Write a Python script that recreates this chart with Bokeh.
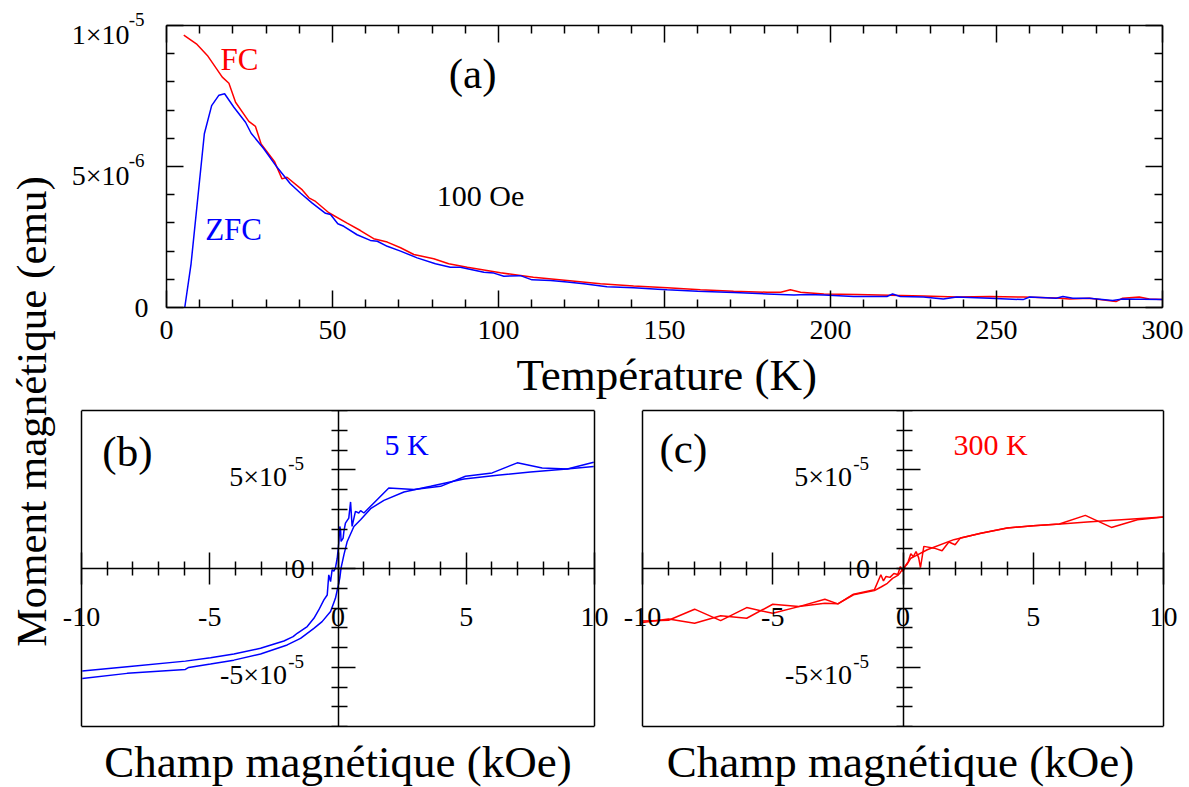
import numpy as np
from bokeh.plotting import figure
from bokeh.models import (Range1d, FixedTicker, LinearAxis, Label, LabelSet, ColumnDataSource,
                          Title)
from bokeh.core.properties import value
from bokeh.layouts import row, column
from bokeh.embed import file_html
from bokeh.resources import INLINE

FONT = "Liberation Serif"

# ---------------- data: panel (a), moment in units of 1e-6 emu ----------------
FC_T = [5.2, 9.0, 12.3, 16.8, 18.8, 20.8, 24.8, 26.8, 28.5, 32.5, 34.8, 36.3, 40.9, 42.9, 44.9,
        48.9, 54.4, 58.4, 62.4, 66.5, 70.5, 74.5, 80.5, 85.0, 90.6, 100.6, 110.5, 120.7, 130.7,
        140.7, 150.8, 160.8, 170.8, 180.9, 185.0, 187.9, 191.0, 198.0, 208.0, 218.0, 228.0,
        238.0, 248.0, 258.0, 268.0, 272.0, 278.0, 286.0, 288.0, 293.0, 296.0, 300.0]
FC_M = [9.66, 9.35, 8.94, 8.17, 7.95, 7.28, 6.60, 6.42, 5.80, 5.18, 4.56, 4.62, 4.17, 3.89, 3.76,
        3.36, 2.99, 2.73, 2.44, 2.32, 2.12, 1.88, 1.73, 1.55, 1.43, 1.23, 1.07, 0.96, 0.84,
        0.76, 0.70, 0.63, 0.58, 0.54, 0.54, 0.63, 0.54, 0.48, 0.46, 0.43, 0.41,
        0.37, 0.39, 0.37, 0.34, 0.30, 0.33, 0.21, 0.33, 0.37, 0.30, 0.28]

ZFC_T = [5.5, 7.4, 11.4, 13.6, 15.8, 17.5, 20.3, 23.8, 25.5, 29.3, 33.3, 37.3, 40.4, 43.9, 47.9,
         49.4, 51.6, 53.4, 57.4, 61.4, 63.5, 66.5, 70.5, 75.5, 81.0, 85.5, 88.5, 95.6, 98.6,
         101.6, 106.6, 110.1, 115.7, 120.7, 125.7, 132.7, 140.7, 148.0, 150.8, 160.0, 170.9,
         181.0, 189.0, 193.0, 198.0, 207.0, 217.0, 218.7, 221.0, 228.0, 234.0, 238.0, 248.0,
         258.0, 260.0, 268.0, 270.0, 273.0, 278.0, 285.0, 288.0, 300.0]
ZFC_M = [0.0, 1.55, 6.16, 7.16, 7.53, 7.58, 7.10, 6.57, 6.18, 5.63, 4.97, 4.39, 4.05, 3.70, 3.34,
         3.30, 2.97, 2.88, 2.58, 2.38, 2.35, 2.17, 2.00, 1.76, 1.55, 1.43, 1.43, 1.25, 1.22,
         1.11, 1.13, 0.98, 0.96, 0.90, 0.84, 0.74, 0.70, 0.65, 0.63, 0.58, 0.53,
         0.48, 0.44, 0.46, 0.44, 0.39, 0.39, 0.48, 0.39, 0.37, 0.30, 0.37, 0.33,
         0.28, 0.37, 0.33, 0.39, 0.33, 0.33, 0.25, 0.30, 0.28]

# ---------------- data: panel (b) 5 K loop, moment in units of 1e-5 emu ----------------
B_DESC_H = [9.97, 8.94, 7.96, 6.99, 6.01, 4.97, 4.0, 2.96, 1.98, 1.01, 0.88, 0.81, 0.68, 0.55,
            0.49, 0.42, 0.29, 0.23, 0.20, 0.12, 0.10, 0.07, 0.03, -0.03, -0.10, -0.16, -0.23,
            -0.29, -0.36, -0.42, -0.55, -0.75, -0.94, -1.20, -1.59, -1.75, -2.11, -3.02,
            -4.06, -4.97, -5.95, -8.22, -9.97]
B_DESC_M = [5.38, 5.04, 5.09, 5.35, 4.84, 4.67, 4.16, 4.00, 4.08, 2.81, 2.93, 2.81, 2.89, 2.13,
            3.37, 2.55, 2.30, 1.88, 1.54, 1.37, 1.97, 2.13, 1.29, 0.52, 0.03, -0.14, -0.07,
            -0.66, -0.32, -1.34, -1.59, -2.10, -2.52, -2.94, -3.28, -3.45, -3.67, -4.04,
            -4.33, -4.52, -4.69, -4.97, -5.19]
B_ASC_H = [-9.97, -8.22, -5.95, -5.82, -4.97, -4.06, -3.02, -1.98, -1.46, -0.94, -0.62, -0.29,
           -0.10, 0.0, 0.07, 0.12, 0.23, 0.36, 0.62, 0.88, 1.27, 1.79, 2.57, 3.61, 4.91, 6.21,
           7.5, 8.8, 9.97]
B_ASC_M = [-5.57, -5.31, -5.11, -5.01, -4.84, -4.64, -4.33, -3.87, -3.54, -3.03, -2.69, -2.18,
           -1.51, -0.91, -0.49, 0.03, 0.69, 1.37, 2.13, 2.47, 3.03, 3.45, 3.87, 4.16, 4.53, 4.72,
           4.89, 5.03, 5.16]

# ---------------- data: panel (c) 300 K loop, moment in units of 1e-5 emu ----------------
C_ASC_H = [-10, -9, -8, -7, -6, -5, -4, -3, -2.5, -1.9, -1.1, -0.85, -0.75, -0.65, -0.5, -0.35,
           -0.2, -0.1, 0.0, 0.1, 0.2, 0.3, 0.4, 0.5, 0.6, 0.67, 0.8, 1.2, 1.5, 1.76, 2.0, 2.2,
           3, 4, 5, 6, 7, 8, 9, 10]
C_ASC_M = [-2.66, -2.62, -2.06, -2.64, -1.98, -2.27, -1.93, -1.56, -1.79, -1.30, -1.08, -0.32,
           -0.63, -0.40, -0.45, -0.25, -0.30, 0.10, -0.15, 0.15, 0.35, 0.75, 0.60, 0.86, 0.55,
           0.05, 1.12, 1.03, 0.90, 1.34, 1.20, 1.54, 1.79, 2.05, 2.17, 2.25, 2.69, 2.08, 2.47,
           2.61]
C_DESC_H = [-10, -9, -8, -7, -6, -5, -4, -3, -2.5, -1.9, -1.1, -0.86, -0.6, -0.4, -0.2, -0.1,
            0.0, 0.15, 0.3, 0.5, 0.93, 1.95, 2.98, 4.0, 5.0, 6.05, 7.07, 8.09, 10]
C_DESC_M = [-2.74, -2.56, -2.77, -2.39, -2.52, -1.81, -1.93, -1.76, -1.79, -1.33, -1.12, -0.95,
            -0.75, -0.5, -0.35, -0.2, 0.0, 0.2, 0.52, 0.65, 0.95, 1.46, 1.79, 2.05, 2.17, 2.25,
            2.35, 2.44, 2.61]

# ---------------- ticks and tick labels ----------------
A_XTICKS = [0, 50, 100, 150, 200, 250, 300]
A_XMINOR = [t for t in range(0, 301, 10) if t % 50]
A_YTICKS = [0, 5, 10]
A_YMINOR = [1, 2, 3, 4, 6, 7, 8, 9]
A_YZERO = ["0"]
A_YMANT = ["5×10", "1×10"]        # mantissa of the labels at 5 and 10
A_YEXP = ["-6", "-5"]             # superscript exponents

H_XTICKS = [-10, -5, 0, 5, 10]
H_XMINOR = [t for t in range(-9, 10) if t % 5]
H_XLABELS = ["-10", "-5", "0", "5", "10"]
H_YLIM = [-8, 8]
H_YTICKS = [-5, 0, 5]
H_YMINOR = [t for t in range(-8, 9) if t % 5]
H_YMANT = ["-5×10", "5×10"]        # labels at -5 and 5
H_YEXP = ["-5", "-5"]

RED = "#ff0000"
BLUE = "#0000ff"
TICK_FS = "28px"
SUP_FS = "19px"
LABEL_FS = "45px"


def base(p):
    p.xgrid.grid_line_color = None
    p.ygrid.grid_line_color = None
    p.outline_line_color = None
    p.background_fill_color = "white"
    p.border_fill_color = "white"


def style_axis(ax, show_labels=True):
    ax.axis_line_width = 1.5
    ax.axis_line_color = "black"
    ax.major_tick_line_width = 1.5
    ax.minor_tick_line_width = 1.5
    ax.major_tick_line_color = "black"
    ax.minor_tick_line_color = "black"
    ax.major_label_text_font = FONT
    ax.major_label_text_font_size = TICK_FS
    ax.major_label_text_color = "black"
    ax.axis_label_text_font = FONT
    ax.axis_label_text_font_size = LABEL_FS
    ax.axis_label_text_font_style = "normal"
    ax.axis_label_text_color = "black"
    if not show_labels:
        ax.major_label_text_color = None
        ax.major_label_text_font_size = "1px"
        ax.major_label_standoff = 0


def ticks(ax, major, minor, tin, tout, min_in, min_out):
    ax.ticker = FixedTicker(ticks=major, minor_ticks=minor)
    ax.major_tick_in, ax.major_tick_out = tin, tout
    ax.minor_tick_in, ax.minor_tick_out = min_in, min_out


def edge_axis(p, loc, bounds, fixed=None):
    """Plain line (no ticks) used as one side of a panel's box."""
    ax = LinearAxis(ticker=FixedTicker(ticks=[]), bounds=bounds)
    style_axis(ax, show_labels=False)
    ax.major_tick_out = 0
    ax.minor_tick_out = 0
    if fixed is not None:
        ax.fixed_location = fixed
    p.add_layout(ax, loc)
    return ax


def labels(p, xs, ys, texts, size, align, xoff, yoff):
    src = ColumnDataSource(dict(x=xs, y=ys, t=texts))
    p.add_layout(LabelSet(x="x", y="y", text="t", source=src, x_offset=xoff, y_offset=yoff,
                          text_font=value(FONT), text_font_size=value(size),
                          text_color="black", text_align=align, text_baseline="middle"))


# ---------------- panel (a) ----------------
# box: 996 x 282 px; the frame is padded so that every tick label lives inside it
A_PPX = 996 / (A_XTICKS[-1] - A_XTICKS[0])
A_PPY = 282 / (A_YTICKS[-1] - A_YTICKS[0])
PAD_L, PAD_R, PAD_T, PAD_B = 100, 22, 14, 42
p1 = figure(frame_width=996 + PAD_L + PAD_R, frame_height=282 + PAD_T + PAD_B,
            min_border_left=6, min_border_right=0, min_border_top=11, min_border_bottom=51,
            x_range=Range1d(A_XTICKS[0] - PAD_L / A_PPX, A_XTICKS[-1] + PAD_R / A_PPX),
            y_range=Range1d(A_YTICKS[0] - PAD_B / A_PPY, A_YTICKS[-1] + PAD_T / A_PPY),
            output_backend="svg", toolbar_location=None)
base(p1)
XB = (A_XTICKS[0], A_XTICKS[-1])
YB = (A_YTICKS[0], A_YTICKS[-1])

xa = p1.xaxis[0]
style_axis(xa)
ticks(xa, A_XTICKS, A_XMINOR, 17, 0, 8, 0)
xa.bounds = XB
xa.fixed_location = A_YTICKS[0]
xa.major_label_standoff = 13

ya = p1.yaxis[0]
style_axis(ya, show_labels=False)
ticks(ya, A_YTICKS, A_YMINOR, 17, 0, 8, 0)
ya.bounds = YB
ya.fixed_location = A_XTICKS[0]

top = LinearAxis(bounds=XB, fixed_location=A_YTICKS[-1])
style_axis(top, show_labels=False)
ticks(top, A_XTICKS, A_XMINOR, 17, 0, 8, 0)
p1.add_layout(top, "above")
rgt = LinearAxis(bounds=YB, fixed_location=A_XTICKS[-1])
style_axis(rgt, show_labels=False)
ticks(rgt, A_YTICKS, A_YMINOR, 17, 0, 8, 0)
p1.add_layout(rgt, "right")

# x axis title, centred under the box (the frame is wider than the box)
p1.add_layout(Title(text="Température (K)", align="left", offset=PAD_L + 350,
                    vertical_align="top", standoff=0,
                    text_font=FONT, text_font_size=LABEL_FS, text_font_style="normal",
                    text_color="black"), "below")

# y tick labels of (a): "0", then mantissa + raised exponent
labels(p1, [0], A_YTICKS[:1], A_YZERO, TICK_FS, "right", -18, 0)
labels(p1, [0, 0], A_YTICKS[1:], A_YMANT, TICK_FS, "right", -37, -9)
labels(p1, [0, 0], A_YTICKS[1:], A_YEXP, SUP_FS, "right", -22, 6)

p1.line(FC_T, FC_M, line_color=RED, line_width=1.5)
p1.line(ZFC_T, ZFC_M, line_color=BLUE, line_width=1.5)

for x, y, txt, col, fs in ((22, 8.8, "FC", RED, "31px"), (20.2, 2.77, "ZFC", BLUE, "31px"),
                           (92.2, 8.3, "(a)", "black", "43px"),
                           (94.6, 3.97, "100 Oe", "black", "30px")):
    p1.add_layout(Label(x=x, y=y, text=txt, text_color=col, text_font=FONT,
                        text_font_size=fs, text_align="center", text_baseline="middle"))


# ---------------- panels (b), (c) ----------------
def hyst(box_w, pad_l, pad_r, left, right, asc_h, asc_m, desc_h, desc_m, col,
         tag, tag_xy, temp, temp_xy):
    xlo, xhi = H_XTICKS[0], H_XTICKS[-1]
    ppu = box_w / (xhi - xlo)
    p = figure(frame_width=box_w + pad_l + pad_r, frame_height=316, min_border_left=left,
               min_border_right=right, min_border_top=9, min_border_bottom=58,
               x_range=Range1d(xlo - pad_l / ppu, xhi + pad_r / ppu),
               y_range=Range1d(H_YLIM[0], H_YLIM[1]), output_backend="svg",
               toolbar_location=None)
    base(p)
    xb = (xlo, xhi)
    yb = (H_YLIM[0], H_YLIM[1])
    xa = p.xaxis[0]
    style_axis(xa, show_labels=False)
    ticks(xa, H_XTICKS, H_XMINOR, 16, 16, 7, 7)
    xa.fixed_location = 0
    xa.bounds = xb
    ya = p.yaxis[0]
    style_axis(ya, show_labels=False)
    ticks(ya, H_YTICKS, H_YMINOR, 17, 7, 9, 7)
    ya.fixed_location = 0
    ya.bounds = yb

    # box around the panel
    edge_axis(p, "above", xb)
    edge_axis(p, "left", yb, fixed=xlo)
    edge_axis(p, "right", yb, fixed=xhi)
    lab = edge_axis(p, "below", xb)
    lab.axis_label = "Champ magnétique (kOe)"
    lab.axis_label_standoff = 10

    # tick labels drawn at the axis crossing
    labels(p, H_XTICKS, [0] * len(H_XTICKS), H_XLABELS, TICK_FS, "center", 0, -48)
    labels(p, [0], [0], ["0"], TICK_FS, "right", -33, 0)
    labels(p, [0, 0], [H_YTICKS[0], H_YTICKS[2]], H_YMANT, TICK_FS, "right", -51, -7)
    labels(p, [0, 0], [H_YTICKS[0], H_YTICKS[2]], H_YEXP, SUP_FS, "right", -34, 6)

    p.line(asc_h, asc_m, line_color=col, line_width=1.5)
    p.line(desc_h, desc_m, line_color=col, line_width=1.5)
    p.add_layout(Label(x=tag_xy[0], y=tag_xy[1], text=tag, text_color="black", text_font=FONT,
                       text_font_size="43px", text_align="center", text_baseline="middle"))
    p.add_layout(Label(x=temp_xy[0], y=temp_xy[1], text=temp, text_color=col, text_font=FONT,
                       text_font_size="30px", text_align="center", text_baseline="middle"))
    return p


p2 = hyst(513, 21, 21, 0, 3, B_ASC_H, B_ASC_M, B_DESC_H, B_DESC_M, BLUE,
          "(b)", (-8.21, 5.94), "5 K", (2.67, 6.29))
p3 = hyst(521, 21, 16, 3, 1, C_ASC_H, C_ASC_M, C_DESC_H, C_DESC_M, RED,
          "(c)", (-8.43, 6.09), "300 K", (3.36, 6.29))

# ---------------- shared y label (an axis title spanning both rows) ----------------
L = figure(width=60, height=783, x_range=Range1d(0, 1), y_range=Range1d(0, 1),
           min_border_left=54, min_border_right=0, min_border_top=39, min_border_bottom=0,
           x_axis_type=None, output_backend="svg", toolbar_location=None)
L.outline_line_color = None
L.xgrid.grid_line_color = None
L.ygrid.grid_line_color = None
la = L.yaxis[0]
style_axis(la, show_labels=False)
la.ticker = FixedTicker(ticks=[])
la.axis_line_color = None
la.major_tick_out = 0
la.minor_tick_out = 0
la.axis_label = "Moment magnétique (emu)"
la.axis_label_text_font_size = "43px"
la.axis_label_standoff = 0

layout = row(L, column(p1, row(p2, p3)))
open("out.html", "w").write(file_html(layout, INLINE, title="Moment magnétique"))
